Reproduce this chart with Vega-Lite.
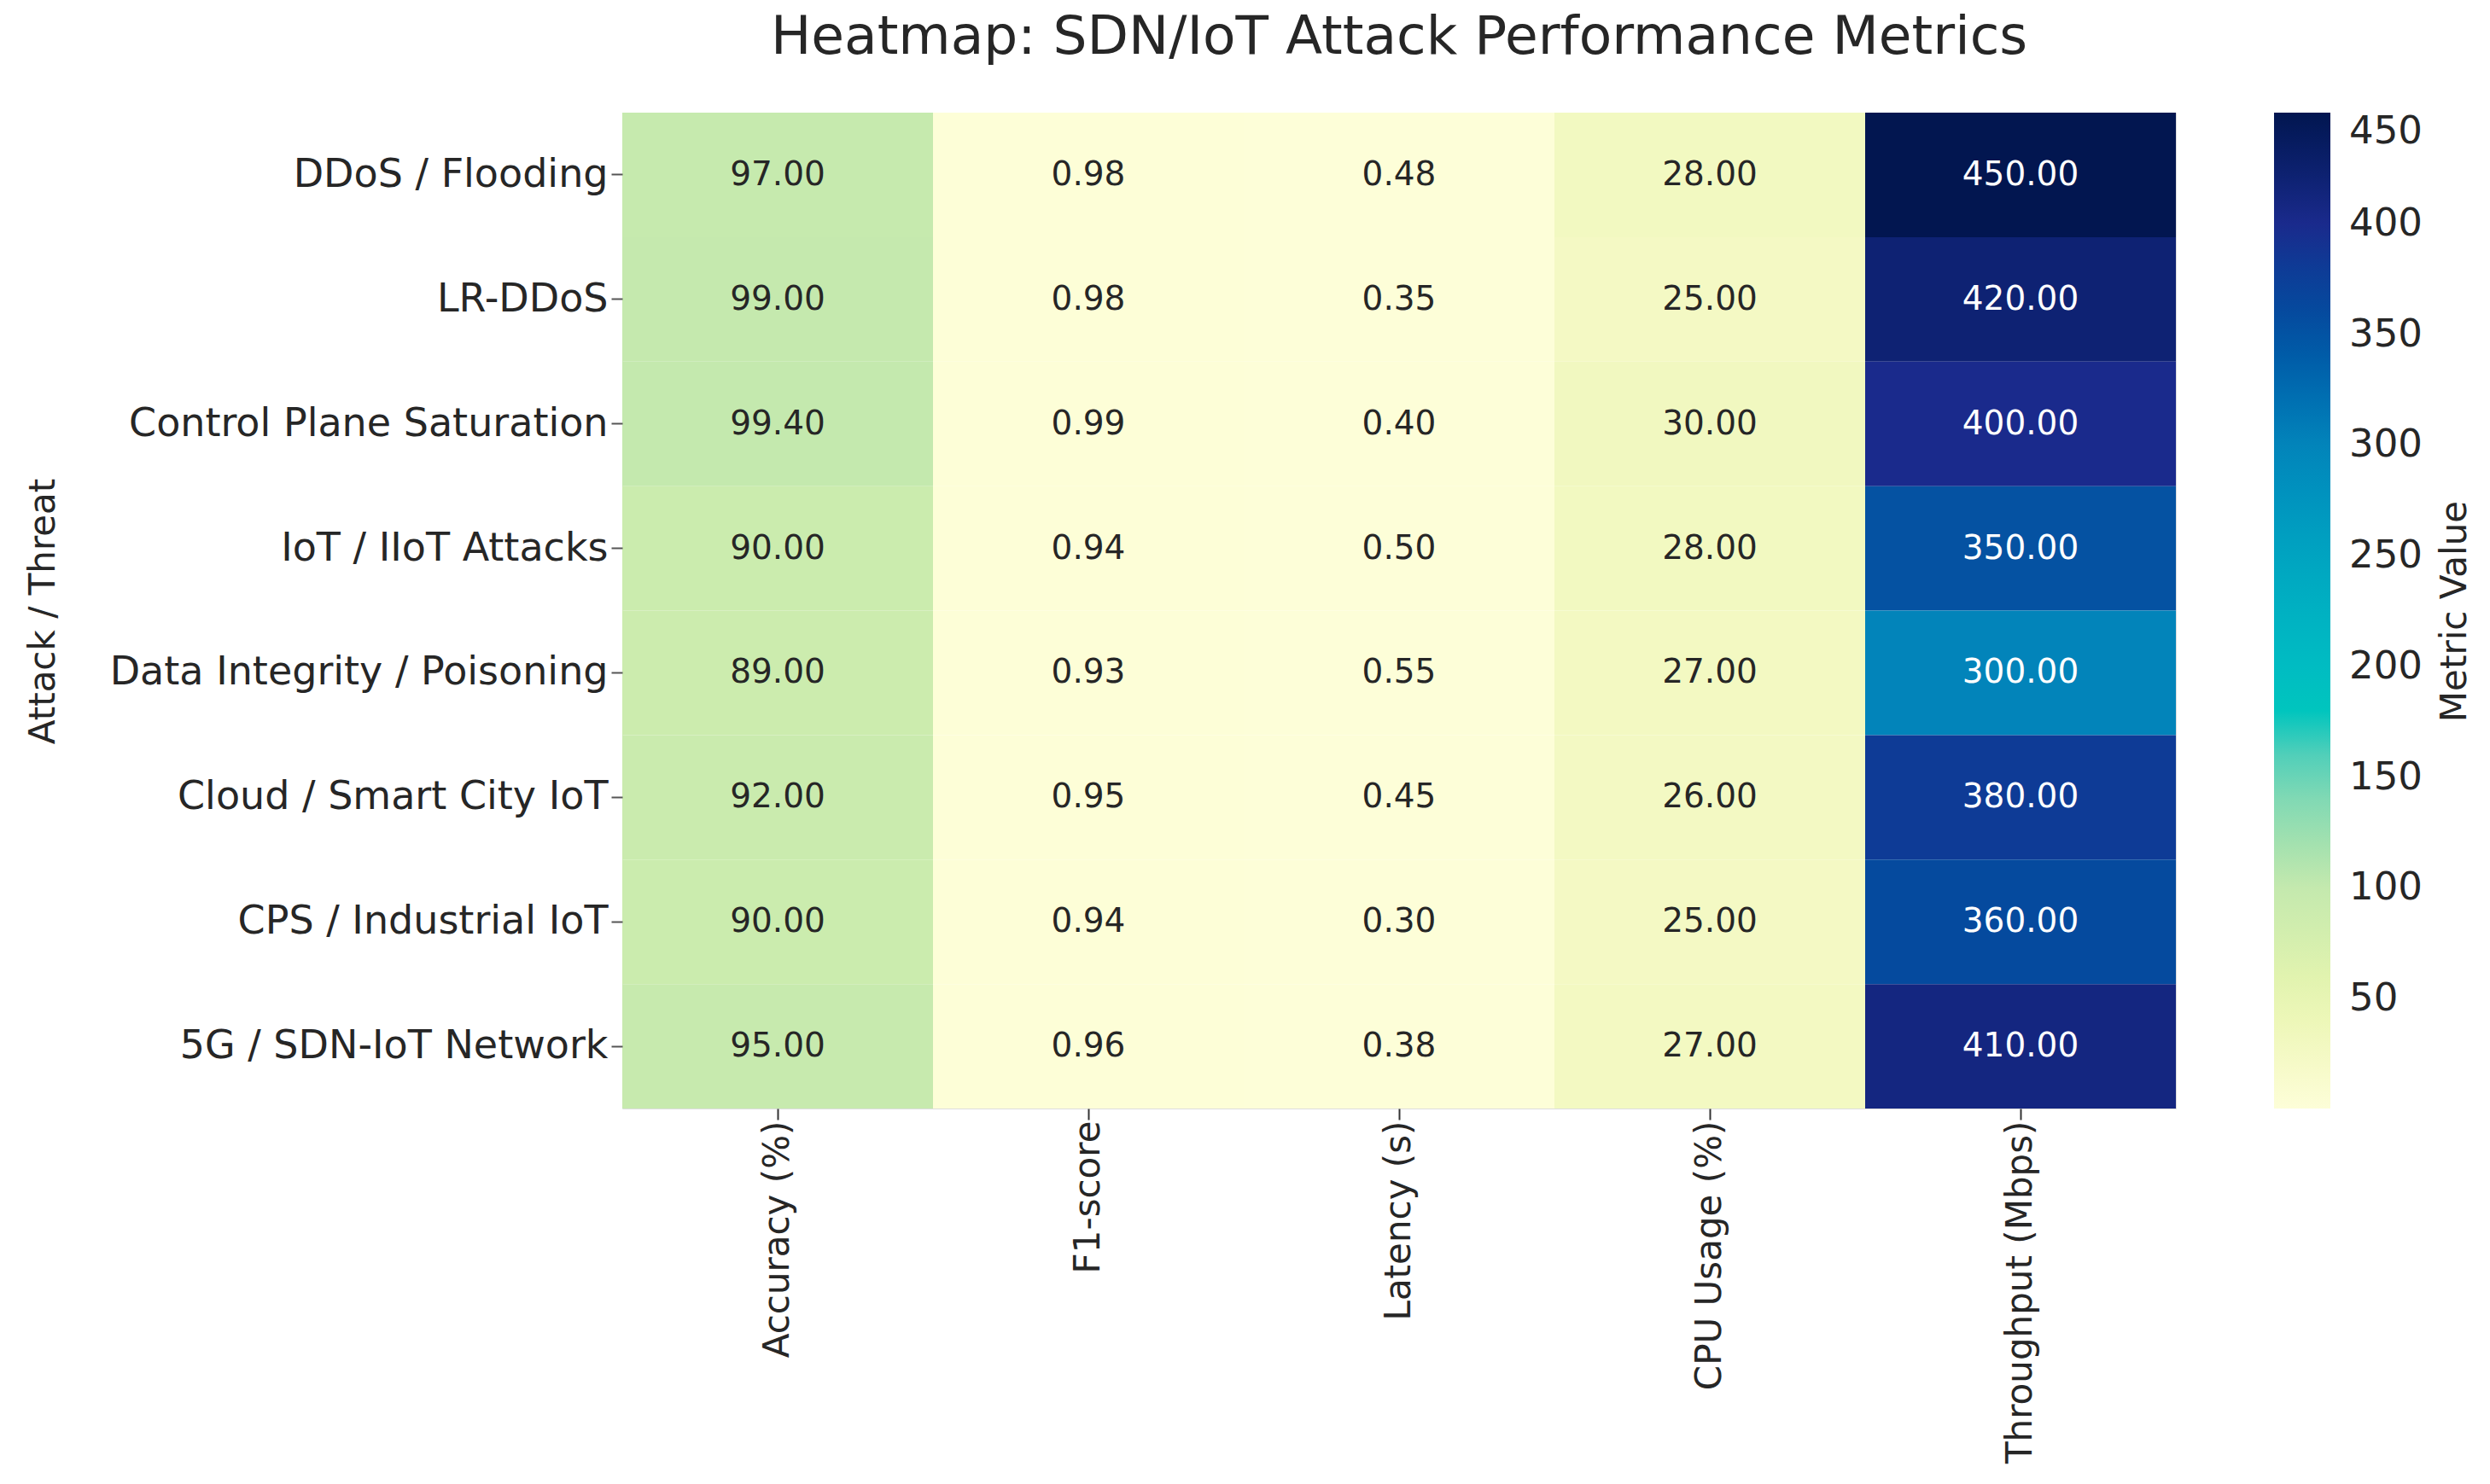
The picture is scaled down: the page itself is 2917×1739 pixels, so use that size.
{
  "$schema": "https://vega.github.io/schema/vega-lite/v6.json",
  "autosize": {"type": "none"},
  "width": 1820,
  "height": 1167,
  "padding": {"left": 729, "top": 132, "right": 368, "bottom": 440},
  "background": "white",
  "title": {
    "text": "Heatmap: SDN/IoT Attack Performance Metrics",
    "font": "DejaVu Sans",
    "fontSize": 63,
    "fontWeight": "normal",
    "color": "#262626",
    "anchor": "middle",
    "offset": 56
  },
  "data": {
    "values": [
      {"attack": "DDoS / Flooding", "metric": "Accuracy (%)", "value": 97.0},
      {"attack": "DDoS / Flooding", "metric": "F1-score", "value": 0.98},
      {"attack": "DDoS / Flooding", "metric": "Latency (s)", "value": 0.48},
      {"attack": "DDoS / Flooding", "metric": "CPU Usage (%)", "value": 28.0},
      {"attack": "DDoS / Flooding", "metric": "Throughput (Mbps)", "value": 450.0},
      {"attack": "LR-DDoS", "metric": "Accuracy (%)", "value": 99.0},
      {"attack": "LR-DDoS", "metric": "F1-score", "value": 0.98},
      {"attack": "LR-DDoS", "metric": "Latency (s)", "value": 0.35},
      {"attack": "LR-DDoS", "metric": "CPU Usage (%)", "value": 25.0},
      {"attack": "LR-DDoS", "metric": "Throughput (Mbps)", "value": 420.0},
      {"attack": "Control Plane Saturation", "metric": "Accuracy (%)", "value": 99.4},
      {"attack": "Control Plane Saturation", "metric": "F1-score", "value": 0.99},
      {"attack": "Control Plane Saturation", "metric": "Latency (s)", "value": 0.40},
      {"attack": "Control Plane Saturation", "metric": "CPU Usage (%)", "value": 30.0},
      {"attack": "Control Plane Saturation", "metric": "Throughput (Mbps)", "value": 400.0},
      {"attack": "IoT / IIoT Attacks", "metric": "Accuracy (%)", "value": 90.0},
      {"attack": "IoT / IIoT Attacks", "metric": "F1-score", "value": 0.94},
      {"attack": "IoT / IIoT Attacks", "metric": "Latency (s)", "value": 0.50},
      {"attack": "IoT / IIoT Attacks", "metric": "CPU Usage (%)", "value": 28.0},
      {"attack": "IoT / IIoT Attacks", "metric": "Throughput (Mbps)", "value": 350.0},
      {"attack": "Data Integrity / Poisoning", "metric": "Accuracy (%)", "value": 89.0},
      {"attack": "Data Integrity / Poisoning", "metric": "F1-score", "value": 0.93},
      {"attack": "Data Integrity / Poisoning", "metric": "Latency (s)", "value": 0.55},
      {"attack": "Data Integrity / Poisoning", "metric": "CPU Usage (%)", "value": 27.0},
      {"attack": "Data Integrity / Poisoning", "metric": "Throughput (Mbps)", "value": 300.0},
      {"attack": "Cloud / Smart City IoT", "metric": "Accuracy (%)", "value": 92.0},
      {"attack": "Cloud / Smart City IoT", "metric": "F1-score", "value": 0.95},
      {"attack": "Cloud / Smart City IoT", "metric": "Latency (s)", "value": 0.45},
      {"attack": "Cloud / Smart City IoT", "metric": "CPU Usage (%)", "value": 26.0},
      {"attack": "Cloud / Smart City IoT", "metric": "Throughput (Mbps)", "value": 380.0},
      {"attack": "CPS / Industrial IoT", "metric": "Accuracy (%)", "value": 90.0},
      {"attack": "CPS / Industrial IoT", "metric": "F1-score", "value": 0.94},
      {"attack": "CPS / Industrial IoT", "metric": "Latency (s)", "value": 0.30},
      {"attack": "CPS / Industrial IoT", "metric": "CPU Usage (%)", "value": 25.0},
      {"attack": "CPS / Industrial IoT", "metric": "Throughput (Mbps)", "value": 360.0},
      {"attack": "5G / SDN-IoT Network", "metric": "Accuracy (%)", "value": 95.0},
      {"attack": "5G / SDN-IoT Network", "metric": "F1-score", "value": 0.96},
      {"attack": "5G / SDN-IoT Network", "metric": "Latency (s)", "value": 0.38},
      {"attack": "5G / SDN-IoT Network", "metric": "CPU Usage (%)", "value": 27.0},
      {"attack": "5G / SDN-IoT Network", "metric": "Throughput (Mbps)", "value": 410.0}
    ]
  },
  "encoding": {
    "x": {
      "field": "metric",
      "type": "nominal",
      "sort": ["Accuracy (%)", "F1-score", "Latency (s)", "CPU Usage (%)", "Throughput (Mbps)"],
      "scale": {"paddingInner": 0, "paddingOuter": 0},
      "axis": {
        "title": null,
        "labelAngle": -90,
        "labelAlign": "right",
        "labelBaseline": "middle",
        "labelFont": "DejaVu Sans",
        "labelFontSize": 42,
        "labelColor": "#262626",
        "labelPadding": 1,
        "tickSize": 13,
        "tickColor": "#333333",
        "tickWidth": 2,
        "domain": false,
        "labelLimit": 0
      }
    }
  },
  "layer": [
    {
      "mark": {"type": "rect", "strokeWidth": 0},
      "encoding": {
        "y": {
          "field": "attack",
          "type": "nominal",
          "sort": ["DDoS / Flooding", "LR-DDoS", "Control Plane Saturation", "IoT / IIoT Attacks", "Data Integrity / Poisoning", "Cloud / Smart City IoT", "CPS / Industrial IoT", "5G / SDN-IoT Network"],
          "scale": {"paddingInner": 0, "paddingOuter": 0},
          "axis": {
            "title": "Attack / Threat",
            "titleFont": "DejaVu Sans",
            "titleFontSize": 42,
            "titleFontWeight": "normal",
            "titleColor": "#262626",
            "titleAngle": 270,
            "titleX": -679,
            "titleY": 584,
            "titleAlign": "center",
            "titleBaseline": "middle",
            "labelFont": "DejaVu Sans",
            "labelFontSize": 46,
            "labelColor": "#262626",
            "labelPadding": 4,
            "tickSize": 13,
            "tickColor": "#555555",
            "tickWidth": 2,
            "domain": false,
            "labelLimit": 0
          }
        },
        "color": {
          "field": "value",
          "type": "quantitative",
          "scale": {
            "domain": [0.3, 50, 100, 150, 172, 200, 250, 300, 350, 400, 450],
            "range": ["#fdfed8", "#e8f5b0", "#c4e9ae", "#70d4b8", "#00c8bc", "#00bcc2", "#00a4c0", "#0284ba", "#0552a2", "#1a2a8c", "#021650"]
          },
          "legend": {
            "title": null,
            "orient": "none",
            "legendX": 1935,
            "legendY": 0,
            "direction": "vertical",
            "gradientLength": 1167,
            "gradientThickness": 66,
            "gradientStrokeWidth": 0,
            "padding": 0,
            "values": [50, 100, 150, 200, 250, 300, 350, 400, 450],
            "labelFont": "DejaVu Sans",
            "labelFontSize": 45,
            "labelColor": "#262626",
            "labelOffset": 22,
            "labelBaseline": "middle",
            "labelOverlap": false
          }
        }
      }
    },
    {
      "mark": {"type": "text", "font": "DejaVu Sans", "fontSize": 39},
      "encoding": {
        "y": {
          "field": "attack",
          "type": "nominal",
          "sort": ["DDoS / Flooding", "LR-DDoS", "Control Plane Saturation", "IoT / IIoT Attacks", "Data Integrity / Poisoning", "Cloud / Smart City IoT", "CPS / Industrial IoT", "5G / SDN-IoT Network"],
          "axis": {
            "orient": "right",
            "title": "Metric Value",
            "titleFont": "DejaVu Sans",
            "titleFontSize": 42,
            "titleFontWeight": "normal",
            "titleColor": "#262626",
            "titleAngle": 270,
            "titleX": 326,
            "titleY": 584,
            "titleAlign": "center",
            "titleBaseline": "middle",
            "labels": false,
            "ticks": false,
            "domain": false,
            "grid": false
          }
        },
        "text": {"field": "value", "type": "quantitative", "format": ".2f"},
        "color": {
          "condition": {"test": "datum.value > 225", "value": "#ffffff"},
          "value": "#262626"
        }
      }
    }
  ],
  "resolve": {"axis": {"y": "independent"}}
}
